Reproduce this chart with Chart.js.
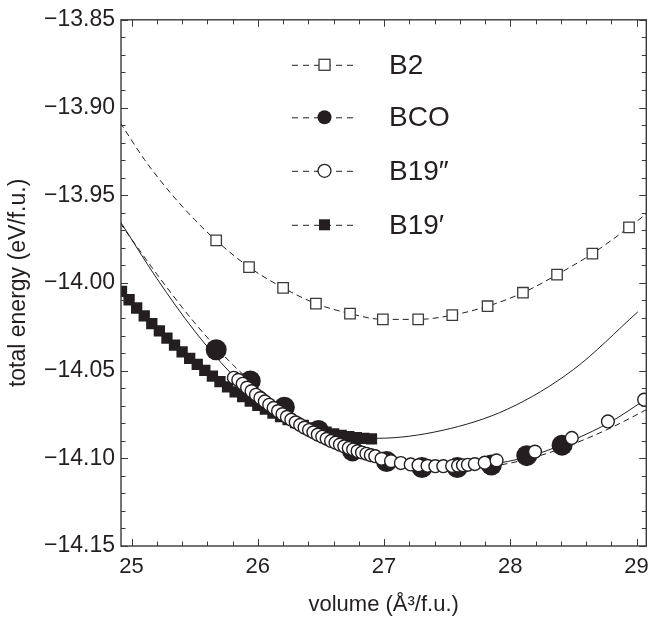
<!DOCTYPE html>
<html><head><meta charset="utf-8">
<script src="https://cdn.jsdelivr.net/npm/chart.js@4/dist/chart.umd.min.js"></script>
<style>html,body{margin:0;padding:0;background:#fff;}#c{display:block;}</style>
</head><body>
<canvas id="c" width="657" height="623"></canvas>
<script>
// ---- tick labels ----
const xTickValues = [25, 26, 27, 28, 29];
const yTickValues = [-14.15, -14.10, -14.05, -14.00, -13.95, -13.90, -13.85];
const legendLabels = ['B2', 'BCO', 'B19\u2033', 'B19\u2032'];

// ---- B2 ----
const b2V = [25.67, 25.93, 26.20, 26.46, 26.73, 26.99, 27.27, 27.54, 27.82, 28.10, 28.37, 28.65, 28.94];
const b2E = [-13.9758, -13.9910, -14.0028, -14.0118, -14.0175, -14.0208, -14.0208, -14.0184, -14.0133, -14.0056, -13.9953, -13.9833, -13.9683];
const b2FitV = [24.91, 25.10, 25.30, 25.50, 25.67, 25.93, 26.20, 26.46, 26.73, 26.99, 27.27, 27.54, 27.82, 28.10, 28.37, 28.65, 28.94, 29.08];
const b2FitE = [-13.9086, -13.9295, -13.9480, -13.9640, -13.9758, -13.9910, -14.0028, -14.0118, -14.0175, -14.0208, -14.0208, -14.0184, -14.0133, -14.0056, -13.9953, -13.9833, -13.9683, -13.9605];

// ---- BCO ----
const bcoV = [25.67, 25.94, 26.21, 26.48, 26.75, 27.02, 27.30, 27.58, 27.85, 28.13, 28.41];
const bcoE = [-14.0381, -14.0559, -14.0709, -14.0841, -14.0958, -14.1018, -14.1053, -14.1053, -14.1038, -14.0985, -14.0925];
const bcoFitV = [24.91, 25.20, 25.50, 25.80, 26.10, 26.40, 26.70, 27.00, 27.30, 27.60, 27.90, 28.20, 28.50, 28.80, 29.08];
const bcoFitE = [-13.9660, -13.9950, -14.0228, -14.0465, -14.0655, -14.0810, -14.0930, -14.1012, -14.1050, -14.1058, -14.1040, -14.0992, -14.0918, -14.0825, -14.0722];

// ---- B19'' ----
const b19ppV = [25.810, 25.845, 25.880, 25.915, 25.950, 25.985, 26.020, 26.055, 26.090, 26.125, 26.160, 26.195, 26.230, 26.265, 26.300, 26.335, 26.370, 26.405, 26.440, 26.475, 26.510, 26.545, 26.580, 26.615, 26.650, 26.685, 26.720, 26.755, 26.790, 26.825, 26.860, 26.895, 26.930,
  26.980, 27.055, 27.133, 27.211, 27.273, 27.344, 27.406, 27.469, 27.539, 27.586, 27.625, 27.664, 27.719, 27.797, 27.891,
  28.195, 28.487, 28.773, 29.060];
const b19ppE = [-14.0541, -14.0553, -14.0575, -14.0597, -14.0617, -14.0638, -14.0657, -14.0676, -14.0695, -14.0713, -14.0731, -14.0748, -14.0764, -14.0780, -14.0795, -14.0810, -14.0825, -14.0839, -14.0852, -14.0865, -14.0877, -14.0889, -14.0901, -14.0911, -14.0922, -14.0932, -14.0941, -14.0950, -14.0959, -14.0967, -14.0974, -14.0982, -14.0988,
  -14.1003, -14.1016, -14.1027, -14.1035, -14.1040, -14.1043, -14.1045, -14.1045, -14.1044, -14.1042, -14.1040, -14.1037, -14.1033, -14.1025, -14.1012,
  -14.0962, -14.0884, -14.0790, -14.0666];
const b19ppFitV = [24.91, 25.20, 25.50, 25.80, 26.10, 26.40, 26.70, 27.00, 27.30, 27.60, 27.90, 28.20, 28.50, 28.80, 29.08];
const b19ppFitE = [-13.9650, -13.9975, -14.0275, -14.0525, -14.0715, -14.0848, -14.0942, -14.1003, -14.1036, -14.1045, -14.1028, -14.0978, -14.0895, -14.0790, -14.0660];

// ---- B19' ----
const b19pV = [24.92, 24.98, 25.04, 25.10, 25.16, 25.22, 25.28, 25.34, 25.40, 25.46, 25.52, 25.58, 25.64, 25.70, 25.76, 25.82, 25.88, 25.94, 26.00, 26.06, 26.12, 26.18, 26.24, 26.30, 26.36, 26.42, 26.48, 26.54, 26.60, 26.66, 26.72, 26.78, 26.84, 26.90];
const b19pE = [-14.0048, -14.0096, -14.0143, -14.0188, -14.0232, -14.0274, -14.0315, -14.0355, -14.0393, -14.0430, -14.0465, -14.0499, -14.0532, -14.0563, -14.0593, -14.0621, -14.0648, -14.0674, -14.0698, -14.0720, -14.0742, -14.0762, -14.0780, -14.0797, -14.0813, -14.0827, -14.0840, -14.0851, -14.0861, -14.0869, -14.0876, -14.0882, -14.0886, -14.0889];
const b19pFitV = [24.92, 25.40, 25.90, 26.40, 26.94, 27.46, 27.98, 28.50, 29.01];
const b19pFitE = [-14.0048, -14.0393, -14.0657, -14.0822, -14.0886, -14.0841, -14.0719, -14.0494, -14.0165];

const pts = (xs, ys) => xs.map((v, i) => ({x: v, y: ys[i]}));
const INK = '#231f20';
const FONT = "'Liberation Sans', Arial, Helvetica, sans-serif";

const fitLine = (xs, ys, dashed, order) => ({
  data: pts(xs, ys), showLine: true, pointRadius: 0, pointHoverRadius: 0,
  borderColor: INK, borderWidth: 1, borderDash: dashed ? [6, 4] : [],
  cubicInterpolationMode: 'monotone', fill: false, order: order
});

const frameTicks = {
  id: 'frameTicks',
  afterDatasetsDraw(chart) {
    const {ctx, chartArea: a, scales: {x, y}} = chart;
    ctx.save();
    ctx.strokeStyle = '#3a3a3a';
    ctx.lineWidth = 1;
    ctx.beginPath();
    for (let k = 0; k <= 20; k++) {
      const v = xTickValues[0] + k * 0.2;
      const px = Math.round(x.getPixelForValue(v)) + 0.5;
      if (px < a.left || px > a.right) continue;
      const len = (k % 5 === 0) ? 7 : 4.5;
      ctx.moveTo(px, a.bottom); ctx.lineTo(px, a.bottom - len);
      ctx.moveTo(px, a.top); ctx.lineTo(px, a.top + len);
    }
    for (let k = 0; k <= 30; k++) {
      const v = yTickValues[0] + k * 0.01;
      const py = Math.round(y.getPixelForValue(v)) + 0.5;
      const len = (k % 5 === 0) ? 7 : 4.5;
      ctx.moveTo(a.left, py); ctx.lineTo(a.left + len, py);
      ctx.moveTo(a.right, py); ctx.lineTo(a.right - len, py);
    }
    ctx.stroke();
    ctx.lineWidth = 1.4;
    ctx.strokeRect(a.left, a.top, a.right - a.left, a.bottom - a.top);
    ctx.restore();
  }
};

const legendPlugin = {
  id: 'boxLegend',
  afterDraw(chart) {
    const {ctx, chartArea: a} = chart;
    const x0 = a.left + 171, x1 = a.left + 236, mx = a.left + 203.5, tx = a.left + 268;
    const rows = [a.top + 45, a.top + 97.5, a.top + 151, a.top + 205];
    ctx.save();
    rows.forEach((ry, i) => {
      ctx.strokeStyle = INK; ctx.lineWidth = 1; ctx.setLineDash([6, 5]);
      ctx.beginPath(); ctx.moveTo(x0, ry + 0.5); ctx.lineTo(x1, ry + 0.5); ctx.stroke();
      ctx.setLineDash([]);
      ctx.lineWidth = 1.3;
      if (i === 0) {
        ctx.fillStyle = '#fff'; ctx.strokeStyle = '#3a3a3a';
        ctx.fillRect(mx - 5.5, ry - 5.5, 11, 11); ctx.strokeRect(mx - 5.5, ry - 5.5, 11, 11);
      } else if (i === 1) {
        ctx.fillStyle = INK; ctx.beginPath(); ctx.arc(mx, ry, 7, 0, Math.PI * 2); ctx.fill();
      } else if (i === 2) {
        ctx.fillStyle = '#fff'; ctx.strokeStyle = INK; ctx.beginPath(); ctx.arc(mx, ry, 6.5, 0, Math.PI * 2); ctx.fill(); ctx.stroke();
      } else {
        ctx.fillStyle = INK; ctx.fillRect(mx - 5.5, ry - 5.5, 11, 11);
      }
      ctx.fillStyle = INK; ctx.font = '28px ' + FONT; ctx.textBaseline = 'middle'; ctx.textAlign = 'left';
      ctx.fillText(legendLabels[i], tx, ry + 1);
    });
    ctx.restore();
  }
};

new Chart(document.getElementById('c'), {
  type: 'scatter',
  data: {
    datasets: [
      {label: legendLabels[2], data: pts(b19ppV, b19ppE), pointStyle: 'circle', pointRadius: 6.4, pointBackgroundColor: '#fff', pointBorderColor: INK, pointBorderWidth: 1.4, showLine: false, order: 0},
      {label: legendLabels[3], data: pts(b19pV, b19pE), pointStyle: 'rect', pointRadius: 8, pointBackgroundColor: INK, pointBorderColor: INK, pointBorderWidth: 0, showLine: false, order: 1},
      {label: legendLabels[1], data: pts(bcoV, bcoE), pointStyle: 'circle', pointRadius: 10.5, pointBackgroundColor: INK, pointBorderColor: INK, pointBorderWidth: 0, showLine: false, order: 2},
      {label: legendLabels[0], data: pts(b2V, b2E), pointStyle: 'rect', pointRadius: 7.4, pointBackgroundColor: '#fff', pointBorderColor: '#3a3a3a', pointBorderWidth: 1.3, showLine: false, order: 3},
      fitLine(b2FitV, b2FitE, true, 5),
      fitLine(bcoFitV, bcoFitE, true, 6),
      fitLine(b19ppFitV, b19ppFitE, false, 7),
      fitLine(b19pFitV, b19pFitE, false, 8)
    ]
  },
  options: {
    responsive: false, animation: false, devicePixelRatio: 1,
    layout: {padding: {top: 13, right: 3.5, left: 0, bottom: 0}},
    plugins: {legend: {display: false}, tooltip: {enabled: false}},
    scales: {
      x: {
        type: 'linear', min: 24.916, max: 29.077,
        afterFit(s) { s.height = 77; },
        afterBuildTicks(s) { s.ticks = xTickValues.map(v => ({value: v})); },
        grid: {display: false, drawTicks: false}, border: {display: false},
        ticks: {padding: 8, color: INK, font: {family: FONT, size: 22}, callback: v => String(v)},
        title: {display: true, text: 'volume (\u00C5\u00B3/f.u.)', color: INK, font: {family: FONT, size: 22}, padding: {top: 0, bottom: 5}}
      },
      y: {
        type: 'linear', min: -14.15, max: -13.85,
        afterFit(s) { s.width = 121; },
        afterBuildTicks(s) { s.ticks = yTickValues.map(v => ({value: v})); },
        grid: {display: false, drawTicks: false}, border: {display: false},
        ticks: {padding: 6, color: INK, font: {family: FONT, size: 23}, callback: v => '\u2212' + Math.abs(v).toFixed(2)},
        title: {display: true, text: 'total energy (eV/f.u.)', color: INK, font: {family: FONT, size: 23}, padding: {top: 5, bottom: 0}}
      }
    }
  },
  plugins: [frameTicks, legendPlugin]
});
</script>
</body></html>
